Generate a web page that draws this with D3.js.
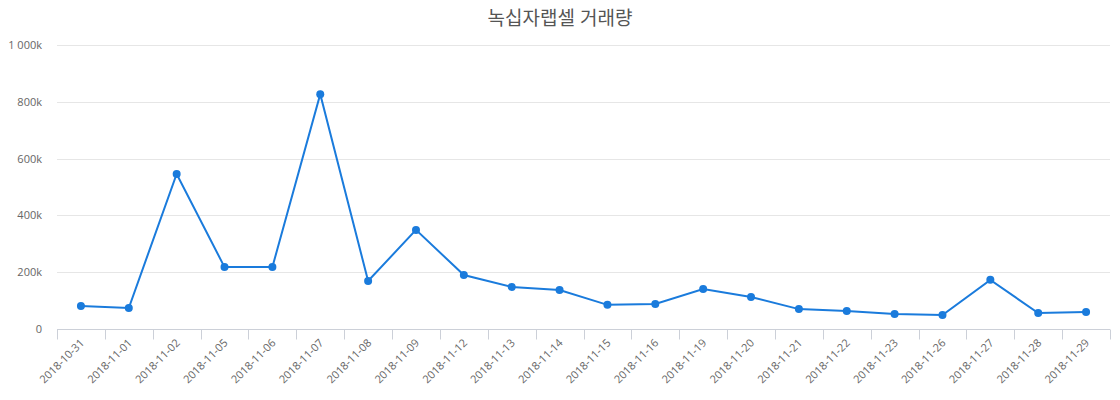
<!DOCTYPE html>
<html>
<head>
<meta charset="utf-8">
<script src="https://cdn.jsdelivr.net/npm/d3@7"></script>
<style>
  body { margin: 0; background: #fff; }
  text { font-family: "Open Sans", "Noto Sans CJK KR", sans-serif; }
</style>
</head>
<body>
<div id="chart"></div>
<script>
var width = 1120,
    height = 400;

// data (values in k)
var dates = ['2018-10-31','2018-11-01','2018-11-02','2018-11-05','2018-11-06','2018-11-07',
  '2018-11-08','2018-11-09','2018-11-12','2018-11-13','2018-11-14','2018-11-15','2018-11-16',
  '2018-11-19','2018-11-20','2018-11-21','2018-11-22','2018-11-23','2018-11-26','2018-11-27',
  '2018-11-28','2018-11-29'];
var volume = [81, 74, 546, 218, 218, 827, 169, 349, 190, 148, 137, 85, 88, 141, 113, 70, 63, 53, 49, 173, 56, 60];
var yTicks = [0, 200, 400, 600, 800, 1000];

var margin = {left: 57, right: 10, top: 45, bottom: 71};

var svg = d3.select("#chart")
  .append("svg")
  .attr("width", width)
  .attr("height", height);

var x = d3.scaleBand()
  .domain(dates)
  .range([margin.left, width - margin.right]);

var y = d3.scaleLinear()
  .domain([0, 1000])
  .range([height - margin.bottom, margin.top]);

svg.append("text")
  .attr("x", width / 2)
  .attr("y", 25)
  .attr("text-anchor", "middle")
  .attr("fill", "#555")
  .style("font-size", "19px")
  .text("녹십자랩셀 거래량");

// grid + y labels
var yg = svg.append("g");
yg.selectAll("line")
  .data(yTicks.filter(function(d) { return d > 0; }))
  .enter().append("line")
  .attr("x1", margin.left).attr("x2", width - margin.right)
  .attr("y1", function(d) { return Math.round(y(d)) + 0.5; })
  .attr("y2", function(d) { return Math.round(y(d)) + 0.5; })
  .attr("stroke", "#e6e6e6");

yg.selectAll("text")
  .data(yTicks)
  .enter().append("text")
  .attr("x", 42)
  .attr("y", function(d) { return y(d) + 4; })
  .attr("text-anchor", "end")
  .attr("fill", "#666")
  .style("font-size", "11px")
  .text(function(d) { return d === 0 ? "0" : d3.format(",")(d).replace(",", " ") + "k"; });

// x axis
var xg = svg.append("g")
  .attr("transform", "translate(0," + (Math.round(y(0)) + 0.5) + ")");
xg.append("line")
  .attr("x1", margin.left).attr("x2", width - margin.right)
  .attr("stroke", "#ccd0d8");

var edges = dates.map(function(d) { return x(d); }).concat([x.range()[1]]);
xg.selectAll("line.tick")
  .data(edges)
  .enter().append("line")
  .attr("class", "tick")
  .attr("x1", function(d) { return Math.round(d) + 0.5; })
  .attr("x2", function(d) { return Math.round(d) + 0.5; })
  .attr("y1", 0).attr("y2", 10)
  .attr("stroke", "#ccd0d8");

xg.selectAll("text")
  .data(dates)
  .enter().append("text")
  .attr("transform", function(d) {
    return "translate(" + (x(d) + x.bandwidth() / 2 + 4) + ",14) rotate(-45)";
  })
  .attr("text-anchor", "end")
  .attr("fill", "#666")
  .style("font-size", "11px")
  .text(function(d) { return d; });

// line + markers
var line = d3.line()
  .x(function(d, i) { return x(dates[i]) + x.bandwidth() / 2; })
  .y(function(d) { return y(d); });

svg.append("path")
  .datum(volume)
  .attr("d", line)
  .attr("fill", "none")
  .attr("stroke", "#1a7bdc")
  .attr("stroke-width", 2);

svg.selectAll("circle")
  .data(volume)
  .enter().append("circle")
  .attr("cx", function(d, i) { return x(dates[i]) + x.bandwidth() / 2; })
  .attr("cy", function(d) { return y(d); })
  .attr("r", 4)
  .attr("fill", "#1a7bdc");
</script>
</body>
</html>
